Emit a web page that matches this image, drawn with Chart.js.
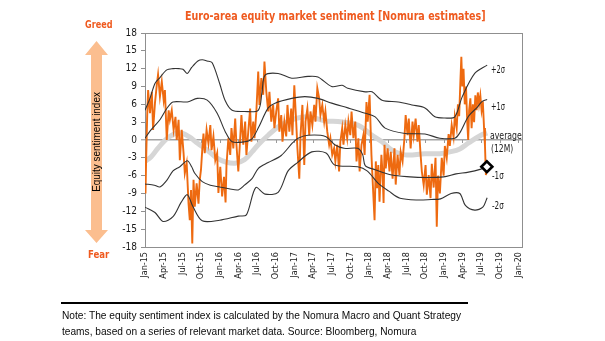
<!DOCTYPE html>
<html><head><meta charset="utf-8">
<script src="https://cdn.jsdelivr.net/npm/chart.js@4.4.1/dist/chart.umd.min.js"></script>
<style>
html,body{margin:0;padding:0;background:#fff;}
#wrap{position:relative;width:605px;height:341px;overflow:hidden;background:#fff;}
canvas{position:absolute;left:0;top:0;}
.t{position:absolute;white-space:nowrap;transform-origin:0 50%;}
.ax{font-family:'DejaVu Sans Condensed','DejaVu Sans',sans-serif;font-size:10px;color:#1a1a1a;height:12px;line-height:12px;}
.or{font-family:'DejaVu Sans Condensed','DejaVu Sans',sans-serif;font-weight:bold;color:#EF5A1F;}
.note{font-family:'Liberation Sans',Arial,sans-serif;font-size:11.5px;color:#0a0a0a;height:14px;line-height:14px;}
</style></head><body>
<div id="wrap">
<canvas id="c" width="605" height="341"></canvas>
<svg style="position:absolute;left:0;top:0" width="605" height="341">
  <polygon points="96.5,41 108,55 102,55 102,230 108,230 96.5,243 85,230 91,230 91,55 85,55" fill="#FBBE8F"/>
  <rect x="61" y="302" width="407" height="2" fill="#000"/>
</svg>
<div class="t or" data-w="301" style="left:185px;top:9px;height:14px;line-height:14px;font-size:11.5px;">Euro-area equity market sentiment [Nomura estimates]</div>
<div class="t or" data-w="27" style="left:85px;top:18px;height:13px;line-height:13px;font-size:10px;">Greed</div>
<div class="t or" data-w="21" style="left:88px;top:248px;height:13px;line-height:13px;font-size:10px;">Fear</div>
<div id="rot" class="t" data-w="100" data-rot="1" style="left:46.5px;top:135px;width:auto;height:14px;line-height:14px;font-family:'Liberation Sans',Arial,sans-serif;font-size:11px;color:#000;">Equity sentiment index</div>
<div class="t ax" data-w="14" style="left:491px;top:64px;">+2σ</div>
<div class="t ax" data-w="14" style="left:491px;top:101px;">+1σ</div>
<div class="t ax" data-w="32" style="left:490px;top:130px;">average</div>
<div class="t ax" data-w="22" style="left:491px;top:142.5px;">(12M)</div>
<div class="t ax" data-w="12" style="left:492px;top:170px;">-1σ</div>
<div class="t ax" data-w="12" style="left:492px;top:200px;">-2σ</div>
<div class="t note" data-w="399" style="left:62px;top:308px;">Note: The equity sentiment index is calculated by the Nomura Macro and Quant Strategy</div>
<div class="t note" data-w="354" style="left:62px;top:324px;">teams, based on a series of relevant market data. Source: Bloomberg, Nomura</div>
</div>
<script>
// x = months since Jan-15, y = index value
const tickLabels = ['Jan-15','Apr-15','Jul-15','Oct-15','Jan-16','Apr-16','Jul-16','Oct-16','Jan-17','Apr-17','Jul-17','Oct-17','Jan-18','Apr-18','Jul-18','Oct-18','Jan-19','Apr-19','Jul-19','Oct-19','Jan-20'];

const sentiment = [[0,-3],[0.08,-9],[0.2,-2.5],[0.35,4],[0.5,8.4],[0.8,4.5],[1.1,8.1],[1.3,1.7],[1.6,6.2],[1.9,9.3],[2.1,11],[2.4,7.3],[2.7,9.8],[3.0,6.7],[3.2,8.4],[3.5,0],[3.8,5],[4.0,3.4],[4.3,5],[4.6,1.7],[4.9,3.9],[5.1,0],[5.4,3.4],[5.6,-3.4],[5.9,1.7],[6.2,-2.2],[6.4,-5.6],[6.7,-3.9],[7.0,-10.7],[7.2,-13.5],[7.4,-8.4],[7.6,-17.4],[7.8,-6.7],[8.0,-11.2],[8.3,-7.3],[8.6,-10.7],[8.8,-6.7],[9.0,-5],[9.2,-1.7],[9.4,1.1],[9.6,-2.2],[9.9,1.7],[10.2,-0.6],[10.5,2.5],[10.7,-1.7],[11.0,0.6],[11.3,-3.4],[11.6,-2.2],[11.8,-8.9],[12.1,-4.5],[12.4,-9.5],[12.7,-6.2],[12.95,-10.5],[13.1,-4.2],[13.4,0.3],[13.7,-2.5],[13.9,2],[14.2,-1.4],[14.5,3.6],[14.7,-0.8],[15.0,-5.3],[15.3,0.3],[15.5,4.2],[15.8,-0.8],[16.1,3.1],[16.3,-2.5],[16.6,1.4],[16.9,5.3],[17.1,-0.3],[17.4,3.1],[17.6,0.3],[17.9,4.8],[18.2,11.5],[18.4,5.9],[18.7,10.4],[19.0,7.6],[19.2,13.2],[19.5,8.1],[19.8,4.8],[20.0,8.1],[20.3,3.1],[20.6,5.9],[20.8,2],[21.1,4.8],[21.4,7.0],[21.6,1.4],[21.9,4.2],[22.1,-0.3],[22.4,3.1],[22.7,0.6],[22.9,5.9],[23.2,1.4],[23.5,5.3],[23.7,0.8],[24.0,9.2],[24.3,3.1],[24.5,-1.4],[24.8,-6.5],[25.0,0.8],[25.3,5.9],[25.6,-4.2],[25.8,3.1],[26.1,5.3],[26.4,0.8],[26.6,4.8],[26.9,2.5],[27.2,5.9],[27.4,3.1],[27.7,8.7],[28.0,7.0],[28.2,4.2],[28.5,5.9],[28.8,3.1],[29.0,4.8],[29.3,1.4],[29.6,-0.8],[29.8,0.3],[30.1,-2.5],[30.4,-1.4],[30.6,-3.6],[30.9,-0.8],[31.2,-5.3],[31.4,-0.3],[31.7,2],[31.9,-0.8],[32.2,2.5],[32.5,0.3],[32.7,3.1],[33.0,0.8],[33.2,4.8],[33.5,0.3],[33.8,3.1],[34.0,-3.6],[34.3,0.3],[34.5,-5.3],[34.8,-0.8],[35.1,0.8],[35.3,-2.5],[35.6,6.4],[35.8,3.1],[36.1,7.6],[36.4,-2.5],[36.6,-7],[36.9,-13.5],[37.1,-3.6],[37.3,-8.1],[37.5,-4.2],[37.7,-10.4],[38.0,-2.5],[38.2,-5.9],[38.35,-10.6],[38.5,-0.8],[38.7,-4.8],[39.0,-1.4],[39.3,-5.3],[39.5,-2],[39.8,-6.5],[40.1,-1.4],[40.3,-7.5],[40.6,-2.5],[40.9,-5.9],[41.1,-2],[41.4,-3.6],[41.7,0.3],[41.9,4.2],[42.2,0.8],[42.4,3.6],[42.7,-1.4],[43.0,3.1],[43.2,0.8],[43.5,3.6],[43.8,-0.3],[44.0,2.5],[44.3,-2.5],[44.5,-5.3],[44.8,-7.6],[45.1,-4.2],[45.3,-9.2],[45.6,-5.9],[45.9,-9.8],[46.1,-4],[46.4,-8],[46.7,-3],[46.9,-14.6],[47.1,-6],[47.4,-9],[47.7,-3],[48.0,-6],[48.2,-1],[48.5,-3],[48.8,1],[49.0,-1],[49.3,2.5],[49.6,0.5],[49.8,4],[50.1,2],[50.3,6],[50.5,4],[50.7,10],[50.85,14],[51.0,9],[51.2,12],[51.4,6],[51.6,9],[51.8,3],[51.95,0],[52.1,5],[52.3,7],[52.5,2],[52.7,6],[52.9,3],[53.1,7.5],[53.3,5],[53.5,8],[53.7,6],[53.9,7.5],[54.1,5],[54.3,6.5],[54.5,2],[54.65,-1],[54.8,-5.9],[54.95,-4.5]];

const average12m = [[0,-3.6],[1,-2.8],[2,-1.5],[3,-0.3],[4,0.6],[5.5,1.2],[7,0.6],[8.5,-0.6],[10,-1.7],[11.5,-3.0],[13,-3.7],[14.5,-3.9],[16,-3.3],[17.2,-2.0],[18.2,-0.8],[19.8,0.8],[21.4,2.2],[23.6,3.4],[26.2,3.9],[29,3.2],[31,3.1],[34.2,2.5],[36.5,0.8],[38.1,-0.3],[39.7,-1.7],[41.8,-2.5],[45,-2.3],[47.4,-2.3],[49,-2.0],[50.6,-1.5],[52,-0.5],[54,0.8],[55,1.2]];

const plus2 = [[0,5.0],[0.8,7.0],[1.6,9.5],[2.4,10.5],[3.5,11.8],[4.5,12.0],[5.5,12.0],[6.1,11.9],[6.8,11.2],[7.5,12.2],[8.5,13.3],[9.2,13.5],[10.0,13.3],[10.8,13.0],[12.0,9.5],[12.9,6.6],[14.0,5.0],[16.0,4.8],[18.2,5.0],[18.8,8.0],[19.3,10.9],[21.4,11.2],[23.6,10.4],[26.2,10.7],[27.8,10.6],[30.0,9.0],[31.7,9.2],[32.6,8.7],[35.4,8.1],[36.5,8.1],[38.1,6.7],[40.7,6.4],[42.9,5.9],[45.0,5.4],[46.6,3.9],[48.2,3.7],[49.8,3.9],[51.0,7.3],[53.0,11.2],[55.0,12.6]];

const plus1 = [[0,0.3],[0.8,1.5],[2.4,3.4],[3.5,5.3],[4.5,6.4],[6.8,6.4],[8.4,7.0],[10.0,6.7],[11.6,4.5],[12.9,1.4],[14.0,-0.3],[16.0,-0.3],[17.2,0.2],[18.2,2.0],[19.8,5.4],[20.9,6.2],[23.6,7.0],[25.7,7.3],[27.8,7.0],[30.0,6.2],[32.6,5.4],[35.4,4.5],[37.0,3.9],[38.6,2.0],[41.8,1.1],[45.0,1.0],[47.4,0.3],[49.8,0.3],[50.6,1.2],[52.0,4.0],[53.4,5.5],[54.2,6.5],[55.0,6.8]];

const minus1 = [[0,-7.4],[1.5,-7.6],[2.4,-7.9],[3.5,-6.8],[4.5,-5.2],[5.6,-4.5],[6.8,-3.5],[7.5,-4.5],[8.0,-5.6],[9.2,-7.0],[10.5,-7.6],[12,-7.9],[13.5,-8.2],[15,-8.4],[16,-7.6],[17.2,-6.5],[18.2,-4.8],[19.8,-3.8],[21.9,-2.6],[23.7,-0.5],[24.6,0.3],[26.2,0.8],[29,0.6],[30.5,-0.8],[32,-1.4],[34.2,-1.4],[35,-2.5],[35.4,-4.3],[37,-5.0],[39.7,-5.9],[42.6,-6.2],[45,-6.3],[48,-6.2],[50,-5.7],[52,-5.4],[54,-4.9],[55,-4.5]];

const minus2 = [[0,-11.3],[1.6,-12.2],[2.9,-13.7],[4.5,-12.9],[5.8,-10.5],[6.8,-9.2],[7.7,-11.2],[9.2,-13.6],[12,-13.5],[15,-12.8],[16.3,-12.6],[17.8,-8.0],[19.3,-9.1],[21.4,-8.8],[23,-5.2],[24.5,-3.8],[26.8,-2.0],[29.1,-2.2],[30.5,-4.2],[34.2,-4.5],[35.7,-5.2],[37.5,-7.3],[39.2,-8.6],[41,-9.8],[44,-10.1],[46,-10.0],[47.5,-9.9],[49.2,-9.0],[50.6,-9.0],[51.5,-11.0],[53,-11.8],[54.3,-11.3],[55,-9.7]];

const pts = a => a.map(p => ({x:p[0], y:p[1]}));
const last = sentiment[sentiment.length-1];
const FONT = "'DejaVu Sans Condensed','DejaVu Sans',sans-serif";

const frame = {
  id:'frame',
  beforeDatasetsDraw(chart){
    const {ctx, chartArea:a, scales:{x,y}} = chart;
    ctx.save();
    ctx.strokeStyle = '#8f8f8f'; ctx.lineWidth = 1;
    ctx.strokeRect(Math.round(a.left)+0.5, Math.round(a.top)+0.5, Math.round(a.right-a.left), Math.round(a.bottom-a.top));
    const y0 = Math.round(y.getPixelForValue(0));
    ctx.strokeStyle = '#9a9a9a';
    x.ticks.forEach(t => {
      const px = Math.round(x.getPixelForValue(t.value))+0.5;
      ctx.beginPath(); ctx.moveTo(px, y0); ctx.lineTo(px, y0+3); ctx.stroke();
    });
    ctx.restore();
  }
};

const band = (data) => ({data: pts(data), borderColor:'#333', borderWidth:1.1, pointRadius:0, tension:0.3, order:1});

new Chart(document.getElementById('c'), {
  type:'line',
  data:{datasets:[
    {data:[{x:last[0], y:last[1]}], showLine:false, pointStyle:'rectRot', pointRadius:5.5, borderWidth:2.6, borderColor:'#000', backgroundColor:'#fff', order:0},
    band(plus2), band(plus1), band(minus1), band(minus2),
    {data: pts(sentiment), borderColor:'#EE6A10', borderWidth:1.9, pointRadius:0, tension:0, order:2},
    {data: pts(average12m), borderColor:'#d6d6d6', borderWidth:5, pointRadius:0, tension:0.4, order:3}
  ]},
  options:{
    responsive:false, animation:false, devicePixelRatio:1,
    layout:{padding:{left:0, top:33, right:83, bottom:54}},
    plugins:{legend:{display:false}, tooltip:{enabled:false}},
    scales:{
      x:{type:'linear', min:0, max:60.6, position:'bottom',
        afterBuildTicks: s => { s.ticks = tickLabels.map((_,i)=>({value:i*3})); },
        ticks:{autoSkip:false, maxRotation:90, minRotation:90, padding:5, color:'#1a1a1a', font:{family:FONT, size:9},
          callback: v => tickLabels[Math.round(v/3)]},
        grid:{display:false, drawTicks:false}, border:{display:false},
        afterFit: s => { s.height = 40; }
      },
      y:{min:-18, max:18,
        ticks:{stepSize:3, padding:4, color:'#1a1a1a', font:{family:FONT, size:10}},
        grid:{color: c => (c.tick && c.tick.value===0) ? '#a3a3a3' : 'rgba(0,0,0,0)',
              lineWidth: c => (c.tick && c.tick.value===0) ? 1.6 : 1,
              tickColor:'#8f8f8f', tickWidth:1, tickLength:4, drawTicks:true},
        border:{display:true, color:'#8f8f8f', width:1},
        afterFit: s => { s.width = 145; }
      }
    }
  },
  plugins:[frame]
});

document.querySelectorAll('[data-w]').forEach(el => {
  const nat = el.scrollWidth;
  const k = (+el.dataset.w) / nat;
  if (el.dataset.rot) {
    el.style.transformOrigin = '50% 50%';
    el.style.left = (96.5 - nat/2) + 'px';
    el.style.top = (142 - 7) + 'px';
    el.style.transform = 'rotate(-90deg) scaleX(' + k + ')';
  } else {
    el.style.transform = 'scaleX(' + k + ')';
  }
});
</script>
</body></html>
